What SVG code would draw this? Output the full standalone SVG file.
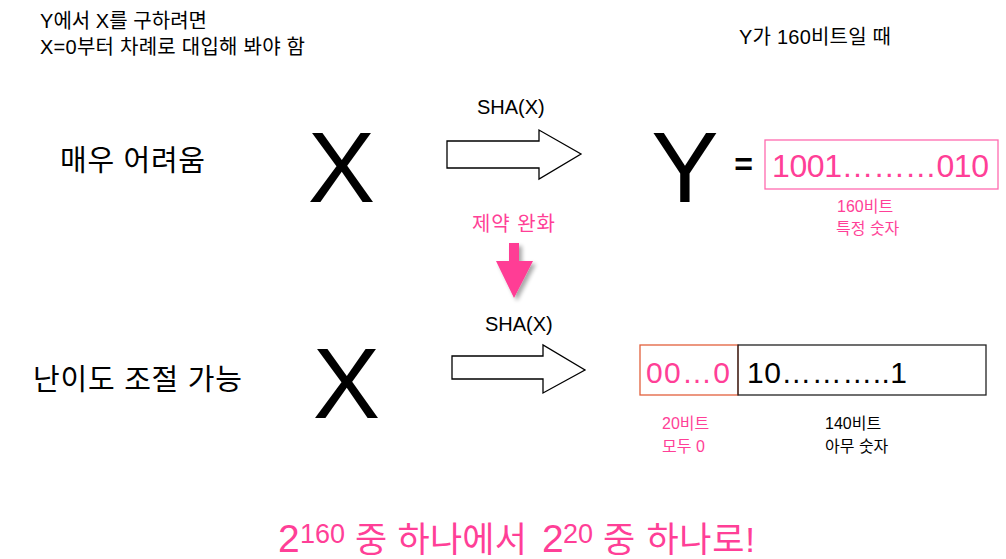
<svg xmlns="http://www.w3.org/2000/svg" width="1006" height="559" viewBox="0 0 1006 559">
<defs>
<style>
text{font-family:"Liberation Sans","Noto Sans CJK KR",sans-serif;fill:#000}
.pink{fill:#FF3F97}
.big{font-size:101px}
.lbl{font-size:29px}
.sha{font-size:20px}
.small{font-size:16px}
.blk{fill:#fff;stroke:#000;stroke-width:1.3}
</style>
<filter id="sh" x="-30%" y="-30%" width="160%" height="160%">
<feGaussianBlur in="SourceAlpha" stdDeviation="2"/>
<feOffset dx="3" dy="3" result="b"/>
<feComponentTransfer><feFuncA type="linear" slope="0.35"/></feComponentTransfer>
<feMerge><feMergeNode/><feMergeNode in="SourceGraphic"/></feMerge>
</filter>
</defs>
<rect width="1006" height="559" fill="#fff"/>

<g id="note-left">
<text x="40" y="28" font-size="20" textLength="167">Y에서 X를 구하려면</text>
<text x="40" y="54" font-size="20" textLength="265">X=0부터 차례로 대입해 봐야 함</text>
</g>
<g id="note-right">
<text x="739" y="44" font-size="20" textLength="152">Y가 160비트일 때</text>
</g>

<g id="label-hard"><text class="lbl" x="60" y="171" textLength="145">매우 어려움</text></g>
<g id="label-adjust"><text class="lbl" x="33" y="390" textLength="209">난이도 조절 가능</text></g>

<g id="x-top"><text class="big" x="341.5" y="202" text-anchor="middle">X</text></g>
<g id="x-bottom"><text class="big" x="346.5" y="418" text-anchor="middle">X</text></g>

<g id="y-node">
<text class="big" x="685" y="202" text-anchor="middle">Y</text>
<text x="743.5" y="175" font-size="32" font-weight="bold" text-anchor="middle">=</text>
</g>

<g id="y-value">
<rect x="765" y="140" width="233" height="49" fill="none" stroke="#FF6AAF" stroke-width="1.3"/>
<text class="pink" x="772" y="177" font-size="32" textLength="217">1001………010</text>
<text class="pink small" x="837" y="212">160비트</text>
<text class="pink small" x="836" y="234">특정 숫자</text>
</g>

<g id="relax">
<text class="pink" x="472" y="231" font-size="20" textLength="83">제약 완화</text>
</g>

<g id="y-relaxed">
<rect x="640" y="345" width="98" height="50" fill="none" stroke="#E2603C" stroke-width="1.3"/>
<rect x="738" y="345" width="248" height="50" fill="none" stroke="#222" stroke-width="1.3"/>
<text class="pink" x="646" y="383" font-size="30" textLength="84">00…0</text>
<text x="747" y="383" font-size="30" textLength="160">10………..1</text>
<text class="pink small" x="662" y="429">20비트</text>
<text class="pink small" x="662" y="452">모두 0</text>
<text class="small" x="825" y="429">140비트</text>
<text class="small" x="825" y="452">아무 숫자</text>
</g>

<g id="connectors">
<text class="sha" x="477" y="114">SHA(X)</text>
<polygon class="blk" points="447,141 539,141 539,130 581,154 539,179 539,168 447,168"/>
<text class="sha" x="485" y="331">SHA(X)</text>
<polygon class="blk" points="452,356 543,356 543,345 585,370 543,393 543,379 452,379"/>
<polygon fill="#FF3D95" filter="url(#sh)" points="509,243 519,243 519,261 533,261 514,298 496,261 509,261"/>
</g>

<g id="conclusion">
<text class="pink" y="552" font-size="39" x="278">2</text>
<text class="pink" y="543" font-size="27" x="300">160</text>
<text class="pink" y="552" font-size="35" x="355" textLength="172">중 하나에서</text>
<text class="pink" y="552" font-size="39" x="542">2</text>
<text class="pink" y="543" font-size="27" x="563">20</text>
<text class="pink" y="552" font-size="35" x="603" textLength="152">중 하나로!</text>
</g>
</svg>
